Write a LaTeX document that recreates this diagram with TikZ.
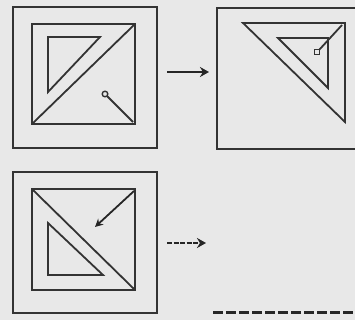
\documentclass[tikz,border=0pt]{standalone}
\usetikzlibrary{arrows.meta, calc}

\tikzset{
  frame/.style={draw=black!80, line width=2pt},
  part/.style={draw=black!80, line width=1.8pt, line join=miter},
  move/.style={draw=black!85, line width=2.6pt, -{Stealth[length=9pt, width=10pt]}}
}

\begin{document}
\begin{tikzpicture}[x=1pt, y=-1pt]

\useasboundingbox (0,0) rectangle (355,320);
\clip (0,0) rectangle (355,320);
\fill[black!9] (0,0) rectangle (355,320);

% panel 1
\draw[frame] (13,7) rectangle (157,148);
\draw[part] (32,24) rectangle (135,124);
\coordinate (p1-bl) at (33,123);
\coordinate (p1-tr) at (134,25);
\draw[part] (p1-bl) -- (p1-tr);
\draw[part] (48,37) -- (100,37) -- (48,92) -- cycle;
\coordinate (p1-pin) at (105,94);
\coordinate (p1-br) at (133,122);
\draw[part, line width=1.4pt] (p1-pin) circle (2.8pt);
\draw[part] ($(p1-pin)!2.8pt!(p1-br)$) -- (p1-br);

% panel 2
\draw[frame] (217,8) rectangle (365,149);
\draw[part] (243,23) -- (345,23) -- (345,122) -- cycle;
\draw[part] (278,38) -- (328,38) -- (328,88) -- cycle;
\coordinate (p2-tr) at (342,25);
\coordinate (p2-pin) at (317,52);
\draw[part, line width=1.4pt] (314.5,49.5) rectangle (319.5,54.5);
\draw[part] (319.5,49.5) -- (p2-tr);

% panel 3
\draw[frame] (13,172) rectangle (157,313);
\draw[part] (32,189) rectangle (135,290);
\coordinate (p3-tl) at (33,190);
\coordinate (p3-br) at (134,289);
\draw[part] (p3-tl) -- (p3-br);
\draw[part] (48,223) -- (48,275) -- (103,275) -- cycle;
\coordinate (p3-tr) at (134,191);
\coordinate (p3-tip) at (95,227);
\draw[move, line width=1.8pt, -{Stealth[length=8pt, width=8pt]}] (p3-tr) -- (p3-tip);

% arrows between panels
\coordinate (a1-s) at (167,72);
\coordinate (a1-e) at (209,72);
\draw[move] (a1-s) -- (a1-e);

\coordinate (a2-s) at (167,243);
\coordinate (a2-e) at (206,243);
\draw[move, dash pattern=on 5pt off 1.5pt] (a2-s) -- (a2-e);

% dashed base line
\coordinate (d-s) at (213,312);
\coordinate (d-e) at (355,312);
\draw[draw=black!85, line width=3pt, dash pattern=on 10pt off 3pt] (d-s) -- (d-e);

\end{tikzpicture}
\end{document}
